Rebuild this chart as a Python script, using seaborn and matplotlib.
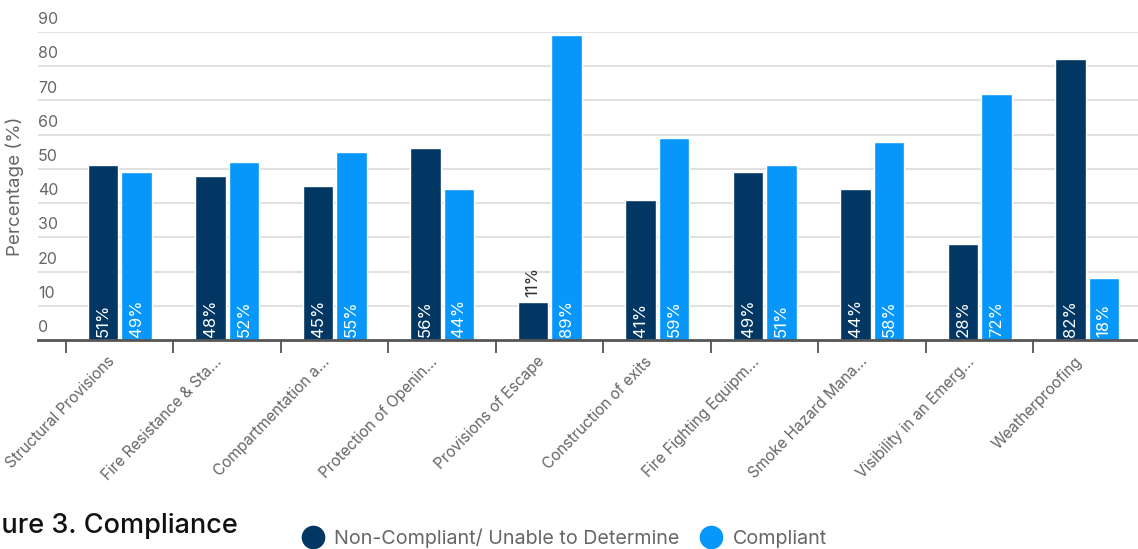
import matplotlib
matplotlib.use("Agg")
import matplotlib.pyplot as plt
import matplotlib.transforms as mtransforms
from matplotlib.lines import Line2D
import seaborn as sns
import pandas as pd

categories = [
    "Structural Provisions",
    "Fire Resistance & Sta...",
    "Compartmentation a...",
    "Protection of Openin...",
    "Provisions of Escape",
    "Construction of exits",
    "Fire Fighting Equipm...",
    "Smoke Hazard Mana...",
    "Visibility in an Emerg...",
    "Weatherproofing",
]
non_compliant = [51, 48, 45, 56, 11, 41, 49, 44, 28, 82]
compliant = [49, 52, 55, 44, 89, 59, 51, 58, 72, 18]
series_names = ["Non-Compliant/ Unable to Determine", "Compliant"]
y_ticks = [0, 10, 20, 30, 40, 50, 60, 70, 80, 90]

DARK = "#023763"
LIGHT = "#0797fb"
GRID = "#dcdcdc"
AXIS = "#555555"
TEXT = "#666666"

df = pd.DataFrame({
    "category": categories * 2,
    "series": [series_names[0]] * len(categories) + [series_names[1]] * len(categories),
    "value": non_compliant + compliant,
})

sns.set_theme(style="white")
plt.rcParams["font.family"] = ["Inter", "DejaVu Sans"]

W, H = 1138, 549
fig = plt.figure(figsize=(W / 100, H / 100), dpi=100)
left_px, right_px, top_px, bottom_px = 38, 1141, 32, 340
ax = fig.add_axes([left_px / W, 1 - bottom_px / H,
                   (right_px - left_px) / W, (bottom_px - top_px) / H])

sns.barplot(data=df, x="category", y="value", hue="series",
            palette=[DARK, LIGHT], width=0.62, gap=0.09,
            saturation=1, legend=False, ax=ax)

ax.set_xlim(-0.76, 9.5)
ax.set_ylim(0, 90)

# horizontal gridlines
for v in y_ticks[1:]:
    ax.axhline(v, color=GRID, lw=1.2, zorder=0)
ax.set_axisbelow(True)

for s in ["top", "right", "left"]:
    ax.spines[s].set_visible(False)
ax.spines["bottom"].set_color(AXIS)
ax.spines["bottom"].set_linewidth(2)

# y tick labels sit above their gridlines
ax.set_yticks([])
lab_off = mtransforms.offset_copy(ax.get_yaxis_transform(), fig=fig, x=0, y=3.5, units="points")
for v in y_ticks:
    ax.text(0, v, str(v), transform=lab_off, ha="left", va="bottom",
            fontsize=11.5, color=TEXT)
ax.set_ylabel("Percentage (%)", fontsize=13.5, color=TEXT)
ax.yaxis.set_label_coords(-0.0127, 0.5)

# category boundaries as ticks, names at centers
ax.set_xticks([i - 0.5 for i in range(len(categories) + 1)], minor=True)
ax.tick_params(axis="x", which="minor", length=9, width=1.3, color=AXIS, bottom=True)
ax.set_xticks(range(len(categories)))
ax.set_xticklabels(categories, rotation=46, ha="right", rotation_mode="anchor",
                   fontsize=11, color=TEXT)
ax.tick_params(axis="x", which="major", length=0, pad=10)
shift = mtransforms.ScaledTranslation(-13 / 100, 0, fig.dpi_scale_trans)
for lbl in ax.get_xticklabels():
    lbl.set_transform(lbl.get_transform() + shift)
ax.set_xlabel("")

# value labels on the bars
for container, vals in zip(ax.containers, [non_compliant, compliant]):
    for bar, v in zip(container, vals):
        cx = bar.get_x() + bar.get_width() / 2
        if v >= 15:
            ax.text(cx, 1.0, f"{v}%", rotation=90, ha="center", va="bottom",
                    color="white", fontsize=12)
        else:
            ax.text(cx, v + 1.5, f"{v}%", rotation=90, ha="center", va="bottom",
                    color="#333333", fontsize=12)

# legend
handles = [Line2D([], [], marker="o", ls="", markersize=16, markerfacecolor=c,
                  markeredgecolor=c) for c in (DARK, LIGHT)]
fig.legend(handles, series_names, loc="center", bbox_to_anchor=(0.4956, 1 - 538 / H),
           ncol=2, frameon=False, fontsize=14.2, labelcolor=TEXT,
           handletextpad=0.5, columnspacing=1.0, handlelength=1.2)

# caption, partially outside the canvas
fig.text(238 / W, 1 - 533 / H, "Figure 3. Compliance", ha="right", va="baseline",
         fontsize=19.5, color="#111111", fontweight="medium")

fig.savefig("out.png", dpi=100)
